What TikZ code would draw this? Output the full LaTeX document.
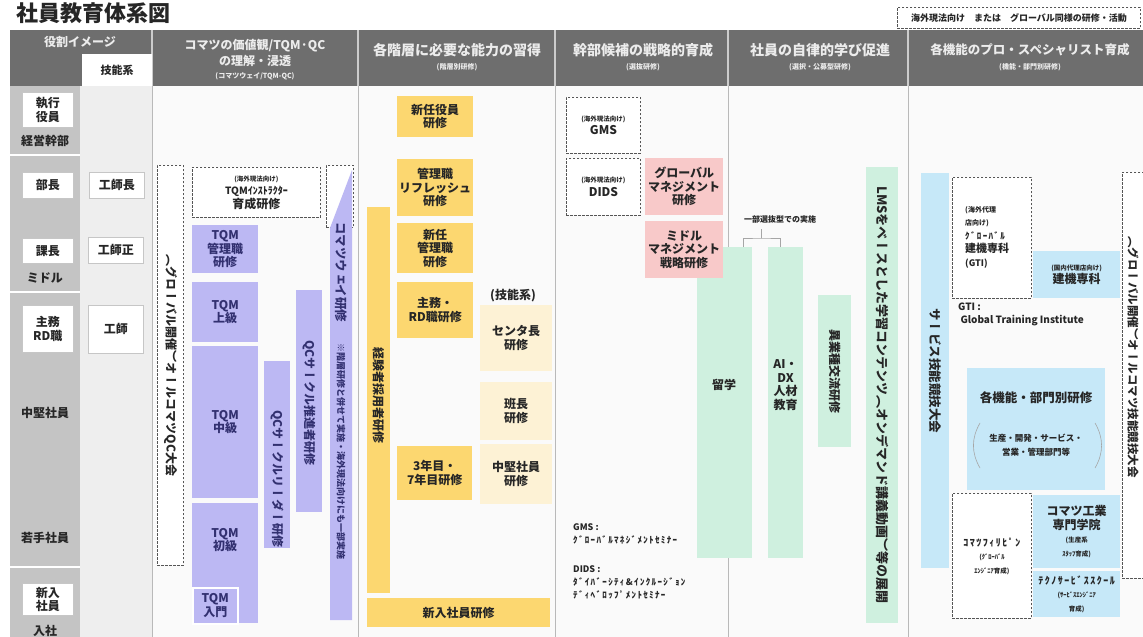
\documentclass[tikz,border=0pt]{standalone}
\usepackage{fontspec}
\setmainfont{Noto Sans CJK JP}
\newfontfamily\tatefont[Vertical=RotatedGlyphs]{Noto Sans CJK JP}
\usetikzlibrary{positioning}
\definecolor{hdrgray}{RGB}{110,110,110}
\definecolor{hdrtext}{RGB}{236,236,236}
\definecolor{rolegray}{RGB}{196,196,196}
\definecolor{skillgray}{RGB}{238,238,238}
\definecolor{bodybg}{RGB}{250,250,250}
\definecolor{tqmblue}{RGB}{188,184,243}
\definecolor{tqmtext}{RGB}{50,48,112}
\definecolor{kaiyel}{RGB}{252,215,112}
\definecolor{kaipale}{RGB}{253,242,213}
\definecolor{senpink}{RGB}{248,201,201}
\definecolor{jirgreen}{RGB}{207,240,223}
\definecolor{kinblue}{RGB}{198,232,248}
\definecolor{dashgray}{RGB}{85,85,85}
\newcommand{\smallsize}{\fontsize{6.5}{8}\selectfont}
\newcommand{\kanasize}{\fontsize{9}{11}\selectfont\addfontfeature{LetterSpace=15}}
\newcommand{\widekana}{\addfontfeature{LetterSpace=15}}
\newcommand{\boxsize}{\fontsize{12}{13.5}\selectfont\bfseries}
\tikzset{
	x=1pt, y=-1pt,
	every node/.style={inner sep=0pt, align=center, text=black!85, font=\boxsize},
	area/.style={anchor=north west},
	rolebox/.style={area, fill=white, draw=gray!45, line width=0.6pt},
	tqmbox/.style={area, fill=tqmblue, text=tqmtext},
	kaibox/.style={area, fill=kaiyel},
	palebox/.style={area, fill=kaipale},
	senbox/.style={area, fill=senpink},
	jirbox/.style={area, fill=jirgreen},
	kinbox/.style={area, fill=kinblue},
	dashbox/.style={area, fill=white, draw=dashgray, line width=0.9pt, dash pattern=on 2.2pt off 1.8pt},
	tate/.style={rotate=-90, font=\tatefont\boxsize},
	hdrtitle/.style={text=hdrtext, font=\fontsize{14}{15}\selectfont\bfseries},
	hdrsub/.style={text=hdrtext, font=\fontsize{7}{8}\selectfont\bfseries},
	colline/.style={draw=gray!55, line width=1pt},
	thinline/.style={draw=gray!70, line width=0.6pt},
}

\begin{document}
\begin{tikzpicture}
	\useasboundingbox[fill=white] (0,0) rectangle (1143,637);
	\node[anchor=west, font=\fontsize{22}{24}\selectfont\bfseries] (title) at (16,13) {社員教育体系図};
	\node[dashbox, minimum width=243, minimum height=21, font=\fontsize{9}{10}\selectfont\bfseries] (legend) at (897,7) {海外現法向け　または　グローバル同様の研修・活動};

	\fill[hdrgray] (10,30) rectangle (1143,86);
	\fill[rolegray] (10,86) rectangle (80,637);
	\fill[skillgray] (80,86) rectangle (152,637);
	\fill[bodybg] (152,86) rectangle (1143,637);
	\foreach \ry in {155,292,567} \draw[white, line width=2pt] (10,\ry) -- (80,\ry);
	\foreach \cx in {152,358,555,728,908} {
		\draw[gray!40, line width=1.5pt] (\cx,30) -- (\cx,86);
		\draw[colline] (\cx,86) -- (\cx,637);
	}

	\node[hdrtitle, font=\fontsize{12}{13}\selectfont\bfseries] (hdrrole) at (80,42) {役割イメージ};
	\node[area, fill=white, minimum width=70, minimum height=32, font=\fontsize{11}{12}\selectfont\bfseries] (hdrskill) at (82,54) {技能系};
	\node[hdrtitle, font=\fontsize{12}{16}\selectfont\bfseries] (hdrway) at (255,53) {コマツの価値観/TQM·QC\\の理解・浸透};
	\node[hdrsub] (hdrwaysub) at (255,76) {(コマツウェイ/TQM-QC)};
	\node[hdrtitle] (hdrkaiso) at (457,50) {各階層に必要な能力の習得};
	\node[hdrsub] (hdrkaisosub) at (457,67) {(階層別研修)};
	\node[hdrtitle] (hdrsenbatsu) at (643,50) {幹部候補の戦略的育成};
	\node[hdrsub] (hdrsenbatsusub) at (643,67) {(選抜研修)};
	\node[hdrtitle] (hdrjiritsu) at (820,50) {社員の自律的学び促進};
	\node[hdrsub] (hdrjiritsusub) at (820,67) {(選択・公募型研修)};
	\node[hdrtitle, font=\fontsize{12.5}{14}\selectfont\bfseries] (hdrkino) at (1030,50) {各機能のプロ・スペシャリスト育成};
	\node[hdrsub] (hdrkinosub) at (1030,67) {(機能・部門別研修)};

	\node[rolebox, minimum width=51, minimum height=35] (exec) at (22,92) {執行\\役員};
	\node (keiei) at (45,141) {経営幹部};
	\node[rolebox, minimum width=51, minimum height=26] (bucho) at (22,172) {部長};
	\node[rolebox, minimum width=55, minimum height=26] (koshicho) at (89,172) {工師長};
	\node[rolebox, minimum width=51, minimum height=25] (kacho) at (22,238) {課長};
	\node[rolebox, minimum width=55, minimum height=26] (koshisei) at (88,237) {工師正};
	\node (middle) at (45,278) {ミドル};
	\node[rolebox, minimum width=51, minimum height=47] (shumu) at (22,305) {主務\\RD職};
	\node[rolebox, minimum width=55, minimum height=48] (koshi) at (88,305) {工師};
	\node (chuken) at (45,413) {中堅社員};
	\node (wakate) at (45,538) {若手社員};
	\node[rolebox, minimum width=51, minimum height=32] (shinnyu) at (22,583) {新入\\社員};
	\node (nyusha) at (45,631) {入社};

	\node[dashbox, minimum width=26, minimum height=400] (qctaikai) at (157,165) {};
	\node[tate] (qctaikai-t) at (qctaikai.center) {（グローバル開催）オールコマツQC大会};
	\node[dashbox, minimum width=128, minimum height=50] (instr) at (192,167) {{\smallsize (海外現法向け)}\\{\fontsize{10}{12}\selectfont TQMｲﾝｽﾄﾗｸﾀｰ}\\育成研修};
	\node[dashbox, minimum width=27, minimum height=62] (kwframe) at (326,165) {};
	\fill[tqmblue] (330,620) -- (330,228) -- (352,170) -- (352,620) -- cycle;
	\node[tate, anchor=west, text=tqmtext, font=\tatefont\fontsize{12.5}{14}\selectfont\bfseries] (kwtitle) at (341,222) {コマツウェイ研修};
	\node[tate, anchor=west, text=tqmtext, font=\tatefont\fontsize{9}{10}\selectfont\bfseries] (kwnote) at (341,343) {※階層研修と併せて実施・海外現法向けにも一部実施};
	\node[tqmbox, minimum width=66, minimum height=48] (tqmmgr) at (192,225) {TQM\\管理職\\研修};
	\node[tqmbox, minimum width=66, minimum height=60] (tqmadv) at (192,282) {TQM\\上級};
	\node[tqmbox, minimum width=66, minimum height=152] (tqmmid) at (192,346) {TQM\\中級};
	\node[tqmbox, minimum width=66, minimum height=120] (tqmbasic) at (192,503) {};
	\node[text=tqmtext] (tqmbasic-t) at (225,540) {TQM\\初級};
	\node[tqmbox, draw=white, line width=1.5pt, minimum width=45, minimum height=36] (tqmintro) at (192,587) {TQM\\入門};
	\node[tqmbox, minimum width=26, minimum height=187] (qcleader) at (264,361) {};
	\node[tate, anchor=west, text=tqmtext] (qcleader-t) at (277,410) {QCサークルリーダー研修};
	\node[tqmbox, minimum width=26, minimum height=222] (qcpromo) at (296,290) {};
	\node[tate, anchor=west, text=tqmtext] (qcpromo-t) at (309,340) {QCサークル推進者研修};

	\node[kaibox, minimum width=76, minimum height=41] (shinyaku) at (397,96) {新任役員\\研修};
	\node[kaibox, minimum width=76, minimum height=57] (refresh) at (397,159) {管理職\\リフレッシュ\\研修};
	\node[kaibox, minimum width=76, minimum height=50] (shinkanri) at (397,223) {新任\\管理職\\研修};
	\node[kaibox, minimum width=76, minimum height=56] (shumuken) at (397,282) {主務・\\RD職研修};
	\node[kaibox, minimum width=23, minimum height=386] (keiken) at (367,207) {};
	\node[tate] (keiken-t) at (378.5,395) {経験者採用者研修};
	\node (ginou) at (513,296) {(技能系)};
	\node[palebox, minimum width=72, minimum height=66] (center) at (480,305) {センタ長\\研修};
	\node[palebox, minimum width=72, minimum height=58] (hancho) at (480,382) {班長\\研修};
	\node[palebox, minimum width=72, minimum height=60] (chukenken) at (480,444) {中堅社員\\研修};
	\node[kaibox, minimum width=75, minimum height=54] (nenme) at (397,446) {3年目・\\7年目研修};
	\node[kaibox, minimum width=183, minimum height=29] (shinnyuken) at (367,598) {新入社員研修};

	\node[jirbox, minimum width=55, minimum height=311] (ryugaku) at (697,247) {};
	\node (ryugaku-t) at (724,385) {留学};
	\node[dashbox, minimum width=74, minimum height=56] (gms) at (566,97) {{\smallsize (海外現法向け)}\\GMS};
	\node[dashbox, minimum width=74, minimum height=57] (dids) at (566,158) {{\smallsize (海外現法向け)}\\DIDS};
	\node[senbox, minimum width=78, minimum height=57] (globalmgt) at (645,158) {グローバル\\マネジメント\\研修};
	\node[senbox, minimum width=78, minimum height=57] (middlemgt) at (645,221) {ミドル\\マネジメント\\戦略研修};
	\node[area, align=left, font=\fontsize{9}{13}\selectfont\bfseries] (gmsnote) at (573,523) {GMS :\\{\kanasize ｸﾞﾛｰﾊﾞﾙﾏﾈｼﾞﾒﾝﾄｾﾐﾅｰ}};
	\node[area, align=left, font=\fontsize{9}{13}\selectfont\bfseries] (didsnote) at (573,565) {DIDS :\\{\kanasize ﾀﾞｲﾊﾞｰｼﾃｨ\&ｲﾝｸﾙｰｼﾞｮﾝ}\\{\kanasize ﾃﾞｨﾍﾞﾛｯﾌﾟﾒﾝﾄｾﾐﾅｰ}};

	\node[jirbox, minimum width=35, minimum height=311] (aidx) at (768,247) {};
	\node (aidx-t) at (785.5,385) {AI・\\DX\\人材\\教育};
	\node[font=\fontsize{8}{9}\selectfont\bfseries] (senbatsu) at (780,219) {一部選抜型での実施};
	\coordinate (brl) at (743,247);
	\coordinate (brr) at (780,247);
	\coordinate (brm) at (761.5,238);
	\draw[thinline] (brl) |- (brm) -| (brr) (brm) -- ++(0,-9);
	\node[jirbox, minimum width=33, minimum height=152] (igyoshu) at (818,295) {};
	\node[tate] (igyoshu-t) at (igyoshu.center) {異業種交流研修};
	\node[jirbox, minimum width=32, minimum height=456] (lms) at (866,167) {};
	\node[tate, font=\tatefont\fontsize{13}{14}\selectfont\bfseries] (lms-t) at (lms.center) {LMSをベースとした学習コンテンツ（オンデマンド講義動画）等の展開};

	\node[kinbox, minimum width=28, minimum height=395] (service) at (921,173) {};
	\node[tate, font=\tatefont\fontsize{12.5}{14}\selectfont\bfseries] (service-t) at (service.center) {サービス技能競技大会};
	\node[dashbox, minimum width=79, minimum height=121] (gti) at (952,177) {};
	\node[anchor=west, align=left] (gti-t) at (965,237) {{\fontsize{7}{9}\selectfont (海外代理}\\{\fontsize{7}{9}\selectfont 店向け)}\\{\fontsize{9}{12}\selectfont\widekana ｸﾞﾛｰﾊﾞﾙ}\\{\fontsize{11}{14}\selectfont 建機専科}\\{\fontsize{9}{12}\selectfont (GTI)}};
	\node[kinbox, minimum width=87, minimum height=47] (kenki) at (1033,251) {{\smallsize (国内代理店向け)}\\建機専科};
	\node[area, align=left, font=\fontsize{10}{13}\selectfont\bfseries] (gtinote) at (958,303) {GTI :\\\ Global Training Institute};
	\node[dashbox, minimum width=30, minimum height=406] (ginotaikai) at (1122,172) {};
	\node[tate, font=\tatefont\fontsize{11.5}{13}\selectfont\bfseries] (ginotaikai-t) at (1133,357) {（グローバル開催）オールコマツ技能競技大会};
	\node[kinbox, minimum width=138, minimum height=122] (bumon) at (967,368) {};
	\node[font=\fontsize{12.5}{14}\selectfont\bfseries] (bumon-t) at (1036,398) {各機能・部門別研修};
	\node[font=\fontsize{8.5}{14}\selectfont\bfseries] (bumon-sub) at (1036,445) {生産・開発・サービス・\\営業・管理部門等};
	\draw[thinline] (980,423) to[bend right=30] (980,468);
	\draw[thinline] (1095,423) to[bend left=30] (1095,468);
	\node[dashbox, minimum width=79, minimum height=125] (phil) at (952,493) {{\fontsize{10}{12}\selectfont\widekana ｺﾏﾂﾌｨﾘﾋﾟﾝ}\\{\smallsize (ｸﾞﾛｰﾊﾞﾙ}\\{\smallsize ｴﾝｼﾞﾆｱ育成)}};
	\node[kinbox, minimum width=87, minimum height=73] (kogyo) at (1033,495) {コマツ工業\\専門学院\\{\smallsize (生産系}\\{\smallsize ｽﾀｯﾌ育成)}};
	\node[kinbox, minimum width=87, minimum height=46] (techno) at (1033,571) {{\fontsize{10}{12}\selectfont\widekana ﾃｸﾉｻｰﾋﾞｽｽｸｰﾙ}\\{\smallsize (ｻｰﾋﾞｽｴﾝｼﾞﾆｱ}\\{\smallsize 育成)}};
\end{tikzpicture}
\end{document}
